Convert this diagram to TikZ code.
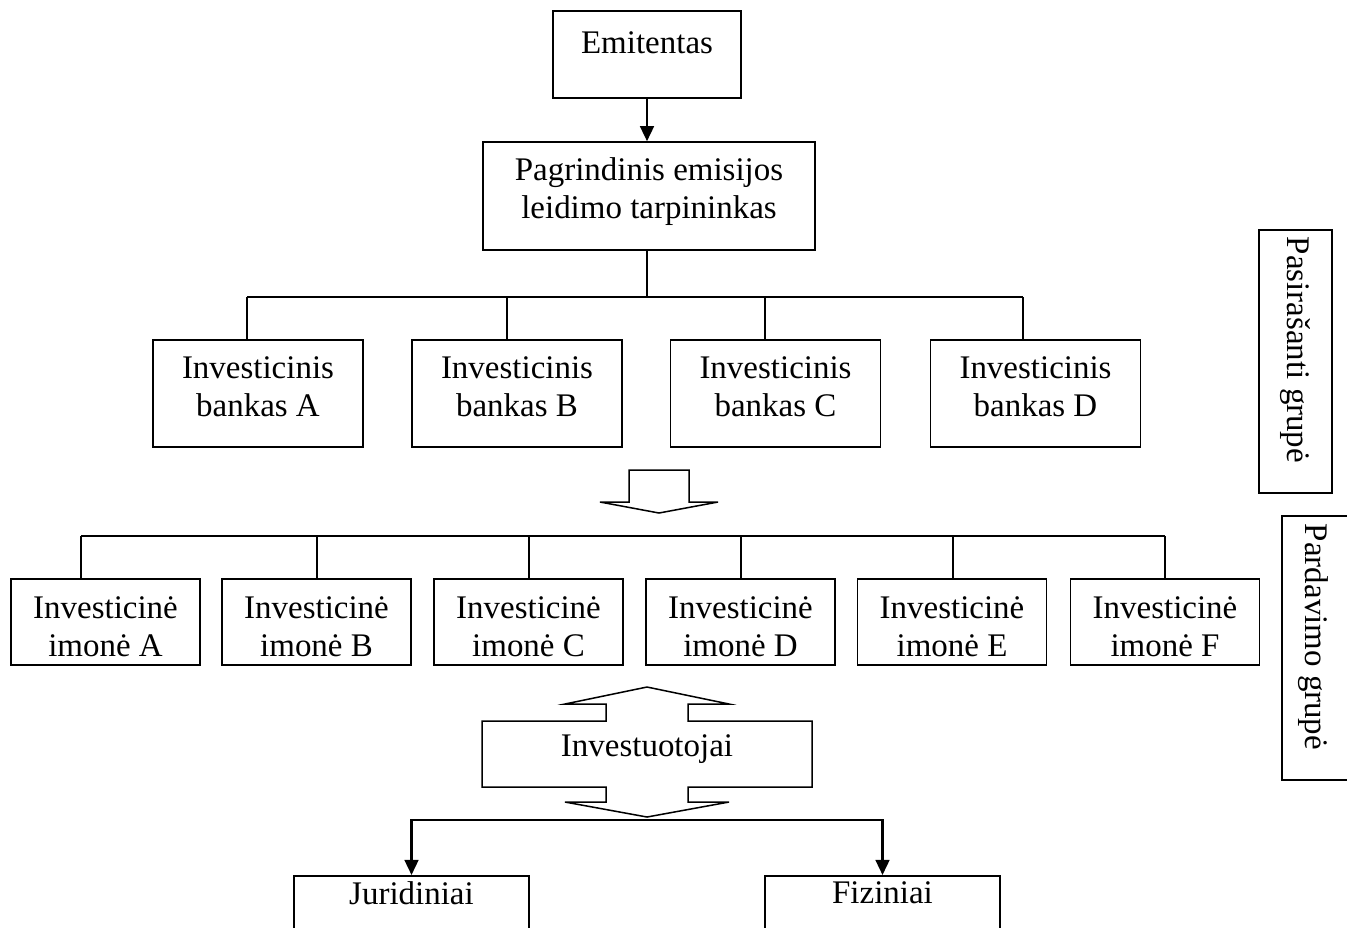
\documentclass[tikz,border=0pt]{standalone}
\usepackage{fontspec}
\setmainfont{Liberation Serif}
\usetikzlibrary{arrows.meta,positioning,calc}
\newdimen\pxu \pxu=0.364pt

\begin{document}
\begin{tikzpicture}[x=0.364pt,y=-0.364pt,
  font=\fontsize{12}{13.8}\selectfont,
  box/.style={draw,line width=0.55pt,align=center,inner sep=0pt},
  bankbox/.style={box,minimum width=210*\pxu,minimum height=107*\pxu,
    label={[align=center,yshift=2.4pt]center:{#1}}},
  imbox/.style={box,minimum width=189*\pxu,minimum height=86*\pxu,
    label={[align=center,yshift=-1.8pt]center:{#1}}},
  wire/.style={line width=0.55pt},
  arr/.style={line width=0.9pt,-{Triangle[length=5.5pt,width=5pt]}},
  hollow/.style={draw,line width=0.55pt,line join=miter}]
  \useasboundingbox (0,0) rectangle (1347,927);
  \clip (0,0) rectangle (1347,927);

  % top
  \node[box,minimum width=188*\pxu,minimum height=87*\pxu] (emit) at (647,54.5) {};
  \node (emitT) at (647,43) {Emitentas};
  \node[box,minimum width=332*\pxu,minimum height=108*\pxu] (pagr) at (649,196) {};
  \node[align=center] (pagrT) at (649,192) {Pagrindinis emisijos\\leidimo tarpininkas};
  \draw[arr] (emit.south) -- (emit.south |- pagr.north);

  % underwriting banks
  \node[bankbox={Investicinis\\bankas A}] (bankA) at (258,393.5) {};
  \node[bankbox={Investicinis\\bankas B}] (bankB) at (517,393.5) {};
  \node[bankbox={Investicinis\\bankas C}] (bankC) at (775.5,393.5) {};
  \node[bankbox={Investicinis\\bankas D}] (bankD) at (1035.5,393.5) {};
  \coordinate (busB) at (647,297);
  \draw[wire] (emit.south |- pagr.south) -- (busB);
  \draw[wire] (247,297) -- (1023,297);
  \foreach \b/\x in {bankA/247,bankB/507,bankC/765,bankD/1023}
    \draw[wire] (\x,297) -- (\x,0 |- \b.north);

  \draw[hollow] (629,470) -- (689,470) -- (689,502) -- (718,502) -- (659,513)
    -- (600,502) -- (629,502) -- cycle;

  % selling firms
  \node[imbox={Investicinė\\imonė A}] (imA) at (105.5,622) {};
  \node[imbox={Investicinė\\imonė B}] (imB) at (316.5,622) {};
  \node[imbox={Investicinė\\imonė C}] (imC) at (528.5,622) {};
  \node[imbox={Investicinė\\imonė D}] (imD) at (740.5,622) {};
  \node[imbox={Investicinė\\imonė E}] (imE) at (952,622) {};
  \node[imbox={Investicinė\\imonė F}] (imF) at (1165,622) {};
  \draw[wire] (81,536) -- (1165,536);
  \foreach \b/\x in {imA/81,imB/317,imC/529,imD/741,imE/953,imF/1165}
    \draw[wire] (\x,536) -- (\x,0 |- \b.north);

  % investors
  \draw[hollow] (647,687) -- (729,704) -- (688,704) -- (688,721) -- (812,721)
    -- (812,787) -- (688,787) -- (688,802) -- (729,802) -- (647,817)
    -- (565,802) -- (606,802) -- (606,787) -- (482,787) -- (482,721)
    -- (606,721) -- (606,704) -- (565,704) -- cycle;
  \node (inv) at (647,749) {Investuotojai};
  \coordinate (invtip) at (647,820);

  \node[box,minimum width=235*\pxu,minimum height=120*\pxu,anchor=north] (jur) at (411.5,875) {};
  \node (jurT) at (411.5,893) {Juridiniai};
  \node[box,minimum width=235*\pxu,minimum height=120*\pxu,anchor=north] (fiz) at (882.5,875) {};
  \node (fizT) at (882.5,893) {Fiziniai};
  \draw[arr] (invtip) -| (jur.north);
  \draw[arr] (invtip) -| (fiz.north);

  % side labels
  \node[box,minimum width=73*\pxu,minimum height=263*\pxu] (pasir) at (1295.5,361.5) {};
  \node[rotate=-90] (pasirT) at (1295,350) {Pasirašanti grupė};
  \node[box,minimum width=80*\pxu,minimum height=264*\pxu] (pard) at (1322,648) {};
  \node[rotate=-90] (pardT) at (1313,637) {Pardavimo grupė};
\end{tikzpicture}
\end{document}
